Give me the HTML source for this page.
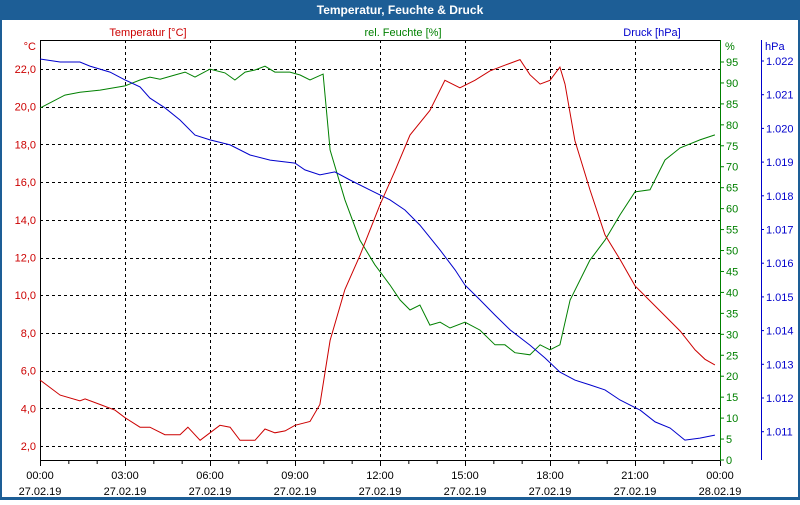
<!DOCTYPE html>
<html><head><meta charset="utf-8"><style>
body{margin:0;background:#fff;font-family:"Liberation Sans",sans-serif}
svg text{font-family:"Liberation Sans",sans-serif;font-size:11px}
</style></head><body>
<svg id="chart" width="800" height="500" xmlns="http://www.w3.org/2000/svg">
<rect x="0" y="0" width="800" height="500" fill="#1d5e96"/>
<rect x="2" y="20" width="796" height="477" fill="#fff"/>
<text x="400" y="14" text-anchor="middle" fill="#fff" font-weight="bold" style="font-size:12px">Temperatur, Feuchte &amp; Druck</text>
<text x="148" y="36" text-anchor="middle" fill="#cc0000">Temperatur [°C]</text>
<text x="403" y="36" text-anchor="middle" fill="#008000">rel. Feuchte [%]</text>
<text x="652" y="36" text-anchor="middle" fill="#0000cc">Druck [hPa]</text>
<text x="36" y="50" text-anchor="end" fill="#cc0000">°C</text>
<text x="725" y="50" fill="#008000">%</text>
<text x="765" y="50" fill="#0000cc">hPa</text>
<g id="grid"></g><g id="axes"></g><g id="series"></g>
</svg>
<script>
const tempHours=[0,0.71,1.41,1.59,2.12,2.65,3.0,3.53,3.88,4.41,4.94,5.22,5.65,6.0,6.35,6.71,7.06,7.59,7.94,8.29,8.65,9.0,9.53,9.88,10.24,10.76,11.29,12.0,12.53,13.06,13.76,14.29,14.82,15.35,15.88,16.41,16.94,17.29,17.65,18.0,18.35,18.53,18.88,19.41,19.94,20.47,21.0,21.53,22.06,22.59,23.12,23.47,23.82];
const tempValues=[5.5,4.7,4.4,4.5,4.2,3.9,3.5,3.0,3.0,2.6,2.6,3.0,2.3,2.7,3.1,3.0,2.3,2.3,2.9,2.7,2.8,3.1,3.3,4.2,7.6,10.3,12.1,14.8,16.6,18.5,19.8,21.4,21.0,21.4,21.9,22.2,22.5,21.7,21.2,21.4,22.1,21.2,18.2,15.6,13.2,11.9,10.5,9.7,8.9,8.1,7.1,6.6,6.3];
const humHours=[0,0.88,1.41,2.12,3.0,3.53,3.88,4.24,4.76,5.12,5.47,6.0,6.53,6.88,7.24,7.59,7.94,8.29,8.82,9.18,9.53,9.99,10.24,10.76,11.29,11.82,12.35,12.71,13.06,13.41,13.76,14.12,14.47,15.0,15.53,16.06,16.41,16.76,17.29,17.65,18.0,18.35,18.71,19.41,19.94,20.47,21.0,21.53,22.06,22.59,23.29,23.82];
const humValues=[84.0,87.1,87.8,88.3,89.3,90.7,91.4,90.9,91.9,92.6,91.4,93.3,92.4,90.7,92.6,93.1,94.0,92.6,92.6,91.9,90.7,92.1,74.0,62.1,52.5,46.6,41.8,38.2,35.8,37.0,32.2,32.9,31.5,32.9,31.0,27.5,27.5,25.6,25.1,27.5,26.3,27.5,38.2,47.7,52.5,58.5,64.0,64.5,71.6,74.5,76.4,77.6];
const presHours=[0,0.71,1.41,1.76,2.47,3.0,3.53,3.88,4.41,4.94,5.47,6.0,6.71,7.41,8.12,9.0,9.35,9.88,10.41,10.94,11.65,12.35,12.88,13.41,14.12,14.65,15.0,15.53,16.06,16.59,17.29,17.82,18.35,18.88,19.41,19.94,20.47,21.18,21.71,22.24,22.76,23.29,23.82];
const presValues=[1022.06,1021.97,1021.97,1021.85,1021.67,1021.44,1021.23,1020.90,1020.61,1020.25,1019.80,1019.66,1019.51,1019.21,1019.06,1018.97,1018.77,1018.62,1018.71,1018.47,1018.17,1017.88,1017.58,1017.13,1016.39,1015.80,1015.35,1014.91,1014.46,1014.02,1013.57,1013.19,1012.77,1012.53,1012.39,1012.24,1011.94,1011.64,1011.29,1011.11,1010.75,1010.81,1010.90];
const tempTicks=[2,4,6,8,10,12,14,16,18,20,22];
const humTicks=[0,5,10,15,20,25,30,35,40,45,50,55,60,65,70,75,80,85,90,95];
const presTicks=[1011,1012,1013,1014,1015,1016,1017,1018,1019,1020,1021,1022];
const timeTicks=[0,3,6,9,12,15,18,21,24];
const timeLabels=["00:00","03:00","06:00","09:00","12:00","15:00","18:00","21:00","00:00"];
const dateLabels=["27.02.19","27.02.19","27.02.19","27.02.19","27.02.19","27.02.19","27.02.19","27.02.19","28.02.19"];

const L=40,R=720,T=40,B=460;
const xS=h=>L+h*(R-L)/24;
const yT=v=>69+(22-v)*18.85;
const yH=v=>460-v*(398/95);
const yP=v=>61+(1022-v)*33.7;
const NS="http://www.w3.org/2000/svg";
function mk(tag,attrs,parent,txt){const e=document.createElementNS(NS,tag);for(const k in attrs)e.setAttribute(k,attrs[k]);if(txt!==undefined)e.textContent=txt;parent.appendChild(e);return e;}
const grid=document.getElementById('grid'),axes=document.getElementById('axes'),series=document.getElementById('series');
const dash={stroke:'#000','stroke-dasharray':'3,3','stroke-width':1};
timeTicks.forEach((h,i)=>{
  if(i>0&&i<timeTicks.length-1){const g=mk('line',Object.assign({x1:xS(h)+.5,x2:xS(h)+.5,y1:T,y2:B},dash),grid);
  
  }
  const t=mk('text',{x:xS(h),y:479,'text-anchor':'middle',fill:'#000'},axes,timeLabels[i]);
  
  
  const d=mk('text',{x:xS(h),y:495,'text-anchor':'middle',fill:'#000'},axes,dateLabels[i]);
  
  
});
for(let h=0;h<=24;h++){const m=mk('line',{x1:xS(h)+.5,x2:xS(h)+.5,y1:B,y2:B+(h%3?4:6),stroke:'#000'},axes);
  
  }
tempTicks.forEach(v=>{
  const g=mk('line',Object.assign({x1:L,x2:R,y1:Math.round(yT(v))+.5,y2:Math.round(yT(v))+.5},dash),grid);
  
  
  const t=mk('text',{x:36,y:yT(v)+4,'text-anchor':'end',fill:'#cc0000'},axes,v.toFixed(1).replace('.',','));
  
  
});
humTicks.forEach(v=>{
  mk('line',{x1:R,x2:R+4,y1:yH(v),y2:yH(v),stroke:'#008000'},axes);
  const t=mk('text',{x:726,y:yH(v)+4,fill:'#008000'},axes,String(v));
  
  
});
presTicks.forEach(v=>{
  mk('line',{x1:761,x2:764,y1:yP(v),y2:yP(v),stroke:'#0000cc'},axes);
  const t=mk('text',{x:766,y:yP(v)+4,fill:'#0000cc'},axes,(v/1000).toFixed(3));
  
  
});
const la=mk('line',{x1:L+.5,x2:L+.5,y1:T,y2:B+1,stroke:'#000'},axes);


const ta=mk('line',{x1:L,x2:R,y1:T+.5,y2:T+.5,stroke:'#000'},axes);


const ba=mk('line',{x1:L,x2:R,y1:B+.5,y2:B+.5,stroke:'#000'},axes);


const ha=mk('line',{x1:R+.5,x2:R+.5,y1:T,y2:B+1,stroke:'#008000'},axes);


const pa=mk('line',{x1:761.5,x2:761.5,y1:T,y2:B,stroke:'#0000cc'},axes);


function line(hs,vs,ys,color,name){
  const d=hs.map((h,i)=>(i?'L':'M')+xS(h).toFixed(1)+','+ys(vs[i]).toFixed(1)).join('');
  const p=mk('path',{d:d,fill:'none',stroke:color,'stroke-width':1},series);
  
  
}
line(humHours,humValues,yH,'#008000','humidity-line');
line(presHours,presValues,yP,'#0000cc','pressure-line');
line(tempHours,tempValues,yT,'#cc0000','temperature-line');
</script>
</body></html>
